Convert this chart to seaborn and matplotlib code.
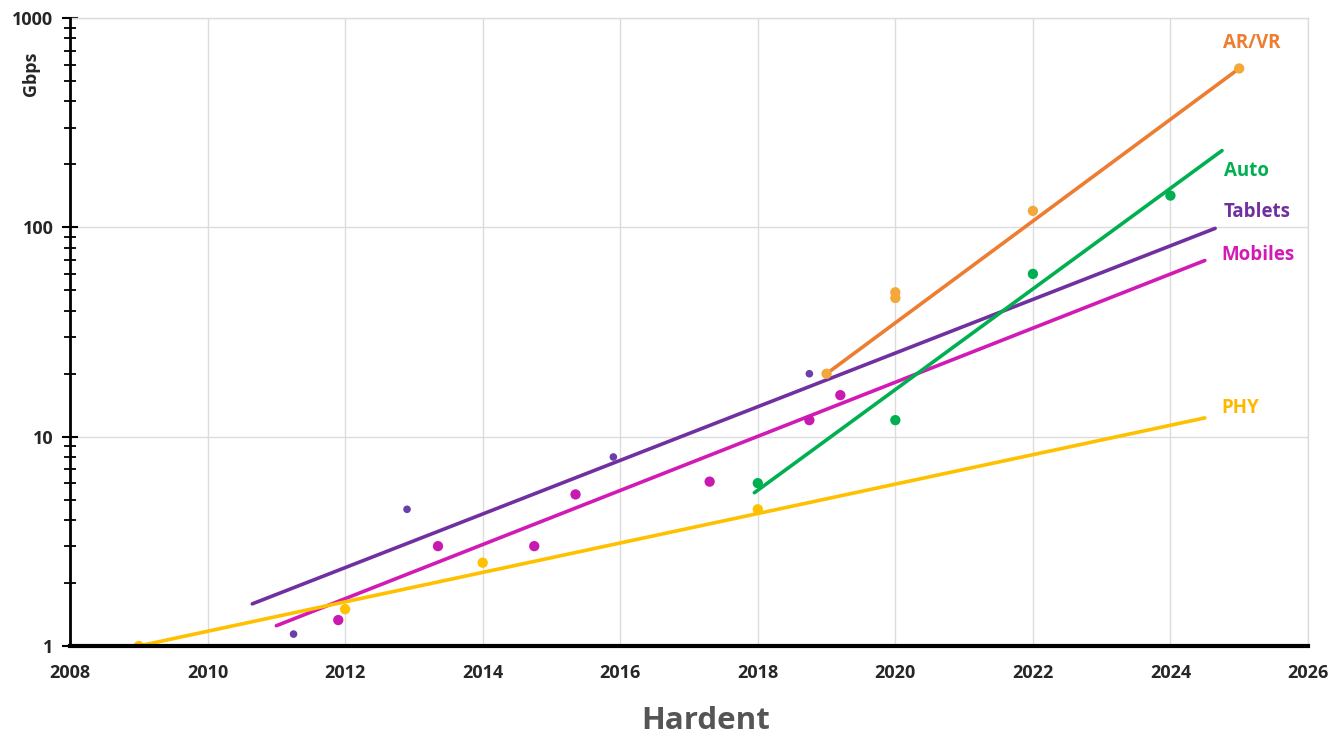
import numpy as np
import pandas as pd
import matplotlib
matplotlib.use("Agg")
import matplotlib.pyplot as plt
import matplotlib.ticker as mticker
import seaborn as sns

sns.set_style("whitegrid")
plt.rcParams["font.family"] = ["Open Sans", "DejaVu Sans"]

# Titik data (tahun, Gbps)
tablets_year = [2011.25, 2012.9, 2015.9, 2018.75]
tablets_gbps = [1.14, 4.5, 8.0, 20.0]

mobiles_year = [2011.9, 2013.35, 2014.75, 2015.35, 2017.3, 2018.75, 2019.2]
mobiles_gbps = [1.33, 3.0, 3.0, 5.3, 6.1, 12.0, 15.8]

phy_year = [2009.0, 2012.0, 2014.0, 2018.0]
phy_gbps = [1.0, 1.5, 2.5, 4.5]

auto_year = [2018.0, 2020.0, 2022.0, 2024.0]
auto_gbps = [6.0, 12.0, 60.0, 142.0]

arvr_year = [2019.0, 2020.0, 2020.0, 2022.0, 2025.0]
arvr_gbps = [20.0, 46.0, 49.0, 120.0, 575.0]

# Garis tren (awal, akhir)
tablets_trend_year = [2010.65, 2024.65]
tablets_trend_gbps = [1.59, 99.0]
mobiles_trend_year = [2011.0, 2024.5]
mobiles_trend_gbps = [1.25, 69.5]
phy_trend_year = [2009.0, 2024.5]
phy_trend_gbps = [1.0, 12.3]
auto_trend_year = [2017.95, 2024.75]
auto_trend_gbps = [5.4, 233.0]
arvr_trend_year = [2019.0, 2025.0]
arvr_trend_gbps = [20.0, 575.0]

series = [
    # nama, warna garis, warna titik, ukuran titik, titik, tren, posisi label
    ("Tablets", "#7030A0", "#6A3FA8", 30, tablets_year, tablets_gbps,
     tablets_trend_year, tablets_trend_gbps, (2024.78, 119)),
    ("Mobiles", "#D21BB5", "#C81AB0", 55, mobiles_year, mobiles_gbps,
     mobiles_trend_year, mobiles_trend_gbps, (2024.74, 74)),
    ("PHY", "#FFC000", "#FFC000", 55, phy_year, phy_gbps,
     phy_trend_year, phy_trend_gbps, (2024.74, 13.7)),
    ("Auto", "#00B050", "#00B050", 55, auto_year, auto_gbps,
     auto_trend_year, auto_trend_gbps, (2024.78, 187)),
    ("AR/VR", "#ED7D31", "#F4A83A", 55, arvr_year, arvr_gbps,
     arvr_trend_year, arvr_trend_gbps, (2024.76, 764)),
]

fig = plt.figure(figsize=(13.34, 7.36), dpi=100)
ax = fig.add_axes([0.0525, 0.1223, 0.928, 0.853])

for name, lc, pc, sz, xs, ys, tx, ty, lab in series:
    sns.lineplot(x=tx, y=ty, ax=ax, color=lc, linewidth=2.6, zorder=3)
    sns.scatterplot(x=xs, y=ys, ax=ax, color=pc, s=sz, edgecolor="none", zorder=4)
    label_color = "#FFB800" if name == "PHY" else lc
    ax.text(lab[0], lab[1], name, color=label_color, fontsize=13.5,
            fontweight="bold", ha="left", va="center")

ax.set_yscale("log")
ax.set_xlim(2008, 2026)
ax.set_ylim(1, 1000)
ax.set_xticks(np.arange(2008, 2027, 2))
ax.set_yticks([1, 10, 100, 1000])
ax.yaxis.set_major_formatter(mticker.FuncFormatter(lambda v, p: f"{v:g}"))
ax.yaxis.set_minor_locator(mticker.LogLocator(base=10, subs=np.arange(2, 10)))
ax.yaxis.set_minor_formatter(mticker.NullFormatter())

ax.grid(True, which="major", color="#DCDCDC", linewidth=1.0)
ax.grid(False, which="minor")
ax.tick_params(axis="x", which="both", length=0, pad=13, labelsize=13)
ax.tick_params(axis="y", which="major", direction="inout", length=12, width=1.5,
               color="black", pad=6, labelsize=13, left=True)
ax.tick_params(axis="y", which="minor", direction="inout", length=9, width=1.3,
               color="black", left=True)
for lbl in ax.get_xticklabels() + ax.get_yticklabels():
    lbl.set_fontweight("bold")

for side in ["top", "right"]:
    ax.spines[side].set_visible(True)
    ax.spines[side].set_color("#DCDCDC")
    ax.spines[side].set_linewidth(1.0)
ax.spines["left"].set_color("black")
ax.spines["left"].set_linewidth(2.0)
ax.spines["bottom"].set_color("black")
ax.spines["bottom"].set_linewidth(3.0)
ax.spines["left"].set_zorder(5)
ax.spines["bottom"].set_zorder(5)

ax.set_xlabel("")
ax.set_ylabel("Gbps", fontsize=13, fontweight="bold")
ax.yaxis.set_label_coords(-0.024, 0.912)

fig.text(0.529, 0.0204, "Hardent", ha="center", va="center", fontsize=22.5,
         fontweight="bold", color="#555555")

fig.savefig("out.png", dpi=100)
